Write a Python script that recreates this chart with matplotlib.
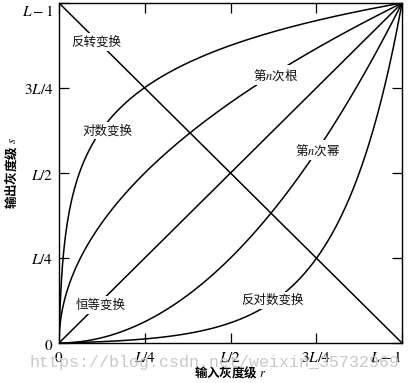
import numpy as np
import matplotlib
matplotlib.use("Agg")
import matplotlib.pyplot as plt

plt.rcParams['font.family'] = ['Noto Sans CJK SC', 'DejaVu Sans']
plt.rcParams['mathtext.fontset'] = 'stix'

# 归一化灰度 (0 .. L-1 -> 0 .. 1)
tick_pos = [0, 0.25, 0.5, 0.75, 1.0]
tick_labels = ['$0$', '$L/4$', '$L/2$', '$3L/4$', '$L-1$']
log_k = 250      # 对数曲线的系数
gamma_root = 0.5
gamma_pow = 2.0

# 曲线标注: 文本, x, y
labels = ['反转变换', '对数变换', '第$n$次根', '第$n$次幂', '恒等变换', '反对数变换']
label_x = [0.11, 0.14, 0.633, 0.755, 0.12, 0.624]
label_y = [0.885, 0.624, 0.788, 0.568, 0.112, 0.126]

r = np.linspace(0, 1, 600)
s_neg = 1 - r
s_log = np.log(1 + log_k * r) / np.log(1 + log_k)
s_invlog = (np.exp(r * np.log(1 + log_k)) - 1) / log_k
s_root = r ** gamma_root
s_pow = r ** gamma_pow

fig = plt.figure(figsize=(4.12, 3.83), dpi=100)
ax = fig.add_axes([59/412, 40/383, 343/412, 340/383])

for s in [s_neg, s_log, s_invlog, s_root, s_pow, r]:
    ax.plot(r, s, color='black', lw=1.1, zorder=2)

for t, x, y in zip(labels, label_x, label_y):
    ax.text(x, y, t, fontsize=9, ha='center', va='center', color='#111111',
            bbox=dict(facecolor='white', edgecolor='none', pad=1.5), zorder=3)

ax.set_xlim(0, 1)
ax.set_ylim(0, 1)
ax.set_xticks(tick_pos)
ax.set_yticks(tick_pos)
ax.set_xticklabels(tick_labels, fontsize=11)
ax.set_yticklabels(tick_labels, fontsize=11)
ax.get_xticklabels()[-1].set_horizontalalignment('right')
ax.get_yticklabels()[-1].set_verticalalignment('top')
ax.tick_params(direction='in', length=7, width=0.9, top=True, right=True, pad=4)
for sp in ax.spines.values():
    sp.set_linewidth(1.0)

fig.text(230/412, 1 - 372/383, '输入灰度级 $r$', fontsize=9, fontweight='bold',
         ha='center', va='center')
ax.set_ylabel('输出灰度级 $s$', fontsize=9, fontweight='bold', labelpad=2)

fig.text(30/412, 1 - 363/383, 'https://blog.csdn.net/weixin_35732969',
         family='Liberation Mono', fontsize=12, color='#c8c8c8', va='center', ha='left')

fig.savefig('out.png', dpi=100)
